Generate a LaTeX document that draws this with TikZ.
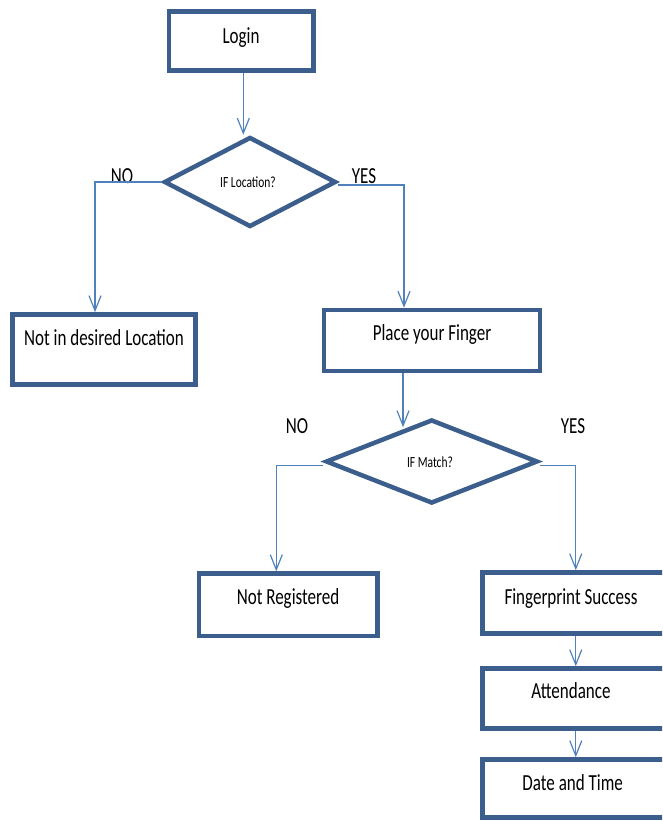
\documentclass[tikz,border=0pt]{standalone}
\usepackage{fontspec}
\usetikzlibrary{shapes.geometric,arrows.meta,calc}
\newfontfamily\calfont[FakeStretch=0.74]{Carlito}
\definecolor{boxblue}{RGB}{59,94,140}
\definecolor{lineblue}{RGB}{79,129,189}
\tikzset{
  flowbox/.style={draw=boxblue, line width=4.5pt, rectangle, inner sep=0pt},
  decision/.style={draw=boxblue, line width=4.5pt, diamond, inner sep=0pt},
  txt/.style={font=\calfont\fontsize{23}{27}\selectfont, text=black, inner sep=0pt, anchor=base},
  smalltxt/.style={font=\calfont\fontsize{15.5}{18}\selectfont, text=black, inner sep=0pt},
  conn/.style={draw=lineblue, line width=1.2pt, -{Straight Barb[length=15pt,width=12pt,line width=1.2pt]}},
}
\begin{document}
\begin{tikzpicture}[x=1pt,y=-1pt]
\useasboundingbox (0,0) rectangle (662,821);
\clip (0,0) rectangle (662,821);
\fill[white] (0,0) rectangle (662,821);

% boxes
\node[flowbox, minimum width=144.5pt, minimum height=59pt] (login) at (241.3,41) {};
\node[flowbox, minimum width=183pt, minimum height=70pt] (nidl) at (104,349.5) {};
\node[flowbox, minimum width=216pt, minimum height=61pt] (pyf) at (432,340.5) {};
\node[flowbox, minimum width=178.5pt, minimum height=62.5pt] (nr) at (288.3,604.8) {};
\node[flowbox, minimum width=217.5pt, minimum height=61pt] (fs) at (591.25,603) {};
\node[flowbox, minimum width=217.5pt, minimum height=60pt] (att) at (591.25,698.5) {};
\node[flowbox, minimum width=217.5pt, minimum height=58pt] (dt) at (591.25,788.5) {};

% decisions
\node[decision, minimum width=172pt, minimum height=90pt] (d1) at (250,182) {};
\node[decision, minimum width=212pt, minimum height=84pt] (d2) at (431.7,461.5) {};

% texts
\node[txt] (tlogin) at (241,44) {Login};
\node[txt] (tnidl) at (104,345) {Not in desired Location};
\node[txt] (tpyf) at (432,340) {Place your Finger};
\node[txt] (tnr) at (288,604) {Not Registered};
\node[txt] (tfs) at (571,604) {Fingerprint Success};
\node[txt] (tatt) at (571,698) {Attendance};
\node[txt] (tdt) at (572.7,790) {Date and Time};
\node[smalltxt] (td1) at (248,182) {IF Location?};
\node[smalltxt] (td2) at (430,462.5) {IF Match?};
\node[txt] (no1) at (122,183) {NO};
\node[txt] (yes1) at (364,183) {YES};
\node[txt] (no2) at (297,433) {NO};
\node[txt] (yes2) at (573,433) {YES};

% connectors
\draw[conn] ($(login.south)+(2,0)$) -- ($(login.south)+(2,62)$);
\draw[conn] (d1.west) -| ($(nidl.north)+(-9,0)$);
\draw[conn] ($(d1.east)+(0,3)$) -| ($(pyf.north)+(-28,0)$);
\draw[conn] ($(pyf.south)+(-29,0)$) -- ($(pyf.south)+(-29,54)$);
\draw[conn] ($(d2.west)+(0,4)$) -| ($(nr.north)+(-12,0)$);
\draw[conn] ($(d2.east)+(0,4)$) -| ($(fs.north west)+(95.5,0)$);
\draw[conn] ($(fs.south west)+(95.5,0)$) -- ($(att.north west)+(95.5,0)$);
\draw[conn] ($(att.south west)+(95.5,0)$) -- ($(dt.north west)+(95.5,0)$);
\end{tikzpicture}
\end{document}
